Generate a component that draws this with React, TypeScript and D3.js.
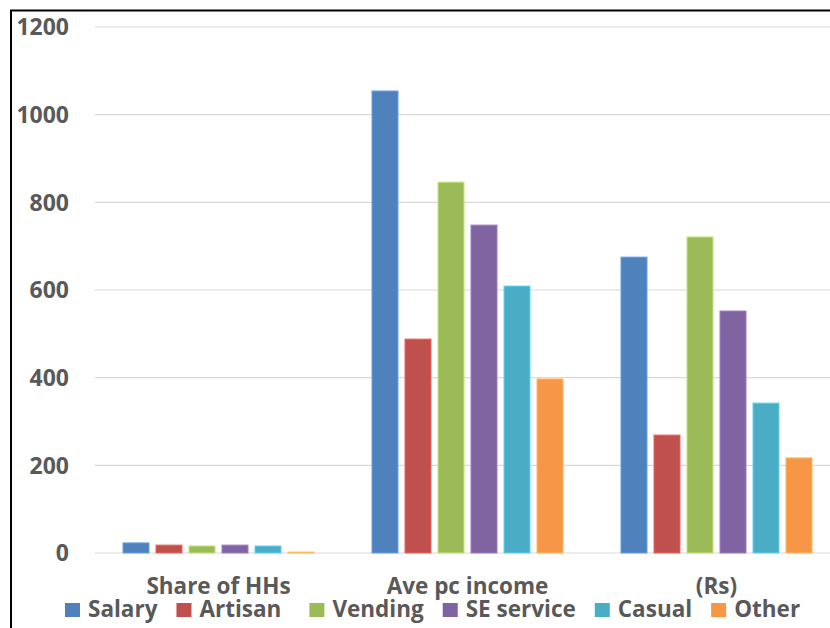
import React, { useEffect, useRef } from "react";
import * as d3 from "d3";

const categories = ["Share of HHs", "Ave pc income", "(Rs)"];
const series = ["Salary", "Artisan", "Vending", "SE service", "Casual", "Other"];
const colors = ["#4F81BD", "#C0504D", "#9BBB59", "#8064A2", "#4BACC6", "#F79646"];

// values per series, one per category
const salary = [23, 1054, 675];
const artisan = [18, 488, 269];
const vending = [16, 846, 721];
const seService = [18, 748, 552];
const casual = [16, 609, 342];
const other = [2, 397, 217];

const yTicks = [0, 200, 400, 600, 800, 1000, 1200];

const W = 830;
const H = 628;
const FONT = "'Open Sans', 'DejaVu Sans', sans-serif";
const TEXT = "#595959";

function App() {
  const ref = useRef<SVGSVGElement>(null);

  useEffect(() => {
    const values = [salary, artisan, vending, seService, casual, other];
    const svg = d3.select(ref.current);
    svg.selectAll("*").remove();

    const x0 = d3.scaleBand().domain(categories).range([94, 841]);
    const x1 = d3.scaleBand().domain(series).range([0, 191]).paddingInner(7 / 33);
    const y = d3.scaleLinear().domain([0, 1200]).range([553, 27]);
    const color = d3.scaleOrdinal<string>().domain(series).range(colors);

    // frame
    svg.append("line").attr("x1", 11).attr("x2", 11).attr("y1", 10).attr("y2", H)
      .attr("stroke", "#000").attr("stroke-width", 2);
    svg.append("line").attr("x1", 10).attr("x2", W).attr("y1", 10.5).attr("y2", 10.5)
      .attr("stroke", "#000").attr("stroke-width", 2);

    // gridlines
    svg.append("g").selectAll("line").data(yTicks).enter().append("line")
      .attr("x1", 95).attr("x2", W)
      .attr("y1", (d) => y(d)).attr("y2", (d) => y(d))
      .attr("stroke", "#d9d9d9").attr("stroke-width", 1.2);

    // y labels
    svg.append("g").selectAll("text").data(yTicks).enter().append("text")
      .text((d) => d)
      .attr("x", 69).attr("y", (d) => y(d)).attr("dy", "0.36em")
      .attr("text-anchor", "end")
      .style("font-family", FONT).style("font-weight", 700).style("font-size", "23px")
      .attr("fill", TEXT);

    // bars
    const off = (x0.bandwidth() - 191) / 2;
    series.forEach((s, si) => {
      svg.append("g").selectAll("rect").data(values[si]).enter().append("rect")
        .attr("x", (d, i) => (x0(categories[i]) as number) + off + (x1(s) as number))
        .attr("y", (d) => y(d))
        .attr("width", x1.bandwidth())
        .attr("height", (d) => y(0) - y(d))
        .attr("fill", color(s))
        .attr("stroke", d3.color(color(s))!.brighter(0.6).formatHex())
        .attr("stroke-width", 1);
    });

    // category labels
    svg.append("g").selectAll("text").data(categories).enter().append("text")
      .text((d) => d)
      .attr("x", (d) => (x0(d) as number) + x0.bandwidth() / 2)
      .attr("y", 594)
      .attr("text-anchor", "middle")
      .style("font-family", FONT).style("font-weight", 700).style("font-size", "22.5px")
      .attr("fill", TEXT);

    // legend
    let lx = 65;
    const legend = svg.append("g");
    series.forEach((s, i) => {
      legend.append("rect").attr("x", lx).attr("y", 603).attr("width", 15).attr("height", 14)
        .attr("fill", color(s));
      const t = legend.append("text").text(s)
        .attr("x", lx + 23).attr("y", 617)
        .style("font-family", FONT).style("font-weight", 700).style("font-size", "22.5px")
        .attr("fill", TEXT);
      const w = (t.node() as SVGTextElement).getComputedTextLength();
      lx += 23 + w + (i === 1 ? 28 : 19);
    });
  }, []);

  return (
    <svg ref={ref} width={W} height={H}
      style={{ position: "absolute", left: 0, top: 0, background: "#fff" }} />
  );
}

export default App;
